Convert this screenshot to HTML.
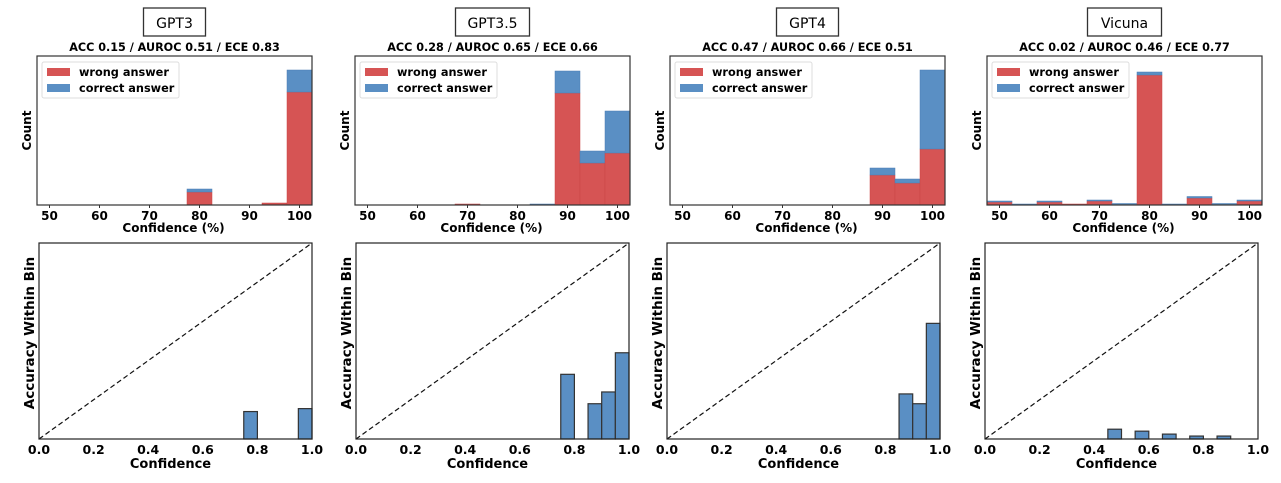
<!DOCTYPE html>
<html><head><meta charset="utf-8">
<style>
body{margin:0;background:#fff;width:1281px;height:478px;overflow:hidden}
svg text{font-family:"DejaVu Sans","Liberation Sans",sans-serif}
</style></head><body>
<svg id="c" width="1281" height="478" xmlns="http://www.w3.org/2000/svg"></svg>
<script>
// ---- data ----
const models = ["GPT3","GPT3.5","GPT4","Vicuna"];
const stats = ["ACC 0.15 / AUROC 0.51 / ECE 0.83","ACC 0.28 / AUROC 0.65 / ECE 0.66","ACC 0.47 / AUROC 0.66 / ECE 0.51","ACC 0.02 / AUROC 0.46 / ECE 0.77"];
const histBins = [50,55,60,65,70,75,80,85,90,95,100];
const wrongGPT3   = [0,0,0,0,0,0,13,0,0,2,113];
const correctGPT3 = [0,0,0,0,0,0,3,0,0,0,22];
const wrongGPT35   = [0,0,0,0,1,0,0,0,112,42,52];
const correctGPT35 = [0,0,0,0,0,0,0,1,22,12,42];
const wrongGPT4   = [0,0,0,0,0,0,0,0,30,22,56];
const correctGPT4 = [0,0,0,0,0,0,0,0,7,4,79];
const wrongVicuna   = [3,0,3,1,4,0,130,0,7,0,4];
const correctVicuna = [1,1,1,0,1,1.5,3,1,1.5,1.5,1];
const wrongSeries = [wrongGPT3,wrongGPT35,wrongGPT4,wrongVicuna];
const correctSeries = [correctGPT3,correctGPT35,correctGPT4,correctVicuna];
const relBinStarts = [0.45,0.5,0.55,0.6,0.65,0.7,0.75,0.8,0.85,0.9,0.95];
const accGPT3   = [0,0,0,0,0,0,0.14,0,0,0,0.155];
const accGPT35  = [0,0,0,0,0,0,0.33,0,0.18,0.24,0.44];
const accGPT4   = [0,0,0,0,0,0,0,0,0.23,0.18,0.59];
const accVicuna = [0.05,0,0.04,0,0.025,0,0.015,0,0.015,0,0];
const accSeries = [accGPT3,accGPT35,accGPT4,accVicuna];
const histTicks = [50,60,70,80,90,100];
const relTicks = [0,0.2,0.4,0.6,0.8,1.0];
const relTickLabels = ["0.0","0.2","0.4","0.6","0.8","1.0"];

const svg = document.getElementById('c');
const NS = "http://www.w3.org/2000/svg";
function mk(tag, attrs, parent){
  const e = document.createElementNS(NS, tag);
  for (const k in attrs) e.setAttribute(k, attrs[k]);
  (parent||svg).appendChild(e); return e;
}
const RED="#d65454", BLUE="#5a8fc4";
const topL=[37,355,670,987], botL=[39,356,667,985];
const W=275, BW=273;

models.forEach((m,i)=>{
  const g = mk('g',{});
  
  
  // ---- histogram ----
  const x0=topL[i], y0=56, y1=205, H=y1-y0;
  const cx = x0+W/2;
  const tb = mk('rect',{x:cx-31+(i==1?-6:0)-(i==3?6:0),y:8,width:62+(i==1?12:0)+(i==3?12:0),height:28,fill:'#fff',stroke:'#333','stroke-width':1.3},g);
  
  
  const tt = mk('text',{x:cx,y:28,'font-size':14,'text-anchor':'middle',fill:'#000'},g);
  tt.textContent=m;
  
  
  const st = mk('text',{x:cx,y:51,'font-size':11.2,'font-weight':'bold','text-anchor':'middle'},g);
  st.textContent=stats[i];
  
  
  const xs = v=> x0+(v-47.5)/55*W;
  const ymax = 149;
  const ys = v=> y1 - v/ymax*H;
  histBins.forEach((b,j)=>{
    const w=wrongSeries[i][j], c=correctSeries[i][j];
    if(w>0){const r=mk('rect',{x:xs(b-2.5),y:ys(w),width:xs(b+2.5)-xs(b-2.5),height:y1-ys(w),fill:RED,stroke:'#c94444','stroke-width':0.5},g);
      
      }
    if(c>0){const r=mk('rect',{x:xs(b-2.5),y:ys(w+c),width:xs(b+2.5)-xs(b-2.5),height:ys(w)-ys(w+c),fill:BLUE,stroke:'#4a7fb4','stroke-width':0.5},g);
      
      }
  });
  mk('rect',{x:x0,y:y0,width:W,height:H,fill:'none',stroke:'#333','stroke-width':1.2},g);
  histTicks.forEach(t=>{
    mk('line',{x1:xs(t),x2:xs(t),y1:y1,y2:y1+3,stroke:'#333'},g);
    const tx=mk('text',{x:xs(t),y:y1+15,'font-size':12,'font-weight':'bold','text-anchor':'middle'},g);
    tx.textContent=t;
    
    
  });
  const xl=mk('text',{x:x0+W/2-1,y:y1+27,'font-size':12,'font-weight':'bold','text-anchor':'middle'},g);
  xl.textContent='Confidence (%)';
  
  
  const yl=mk('text',{x:0,y:0,'font-size':12,'font-weight':'bold','text-anchor':'middle',transform:`translate(${x0-6},${(y0+y1)/2}) rotate(-90)`},g);
  yl.textContent='Count';
  
  
  // legend
  const lg=mk('g',{},g);
  
  
  mk('rect',{x:x0+5,y:y0+6,width:137,height:36,fill:'#fff',stroke:'#ddd',rx:2},lg);
  mk('rect',{x:x0+10,y:y0+12,width:23,height:8,fill:RED},lg);
  mk('rect',{x:x0+10,y:y0+28,width:23,height:8,fill:BLUE},lg);
  const l1=mk('text',{x:x0+42,y:y0+20,'font-size':11.3,'font-weight':'bold'},lg); l1.textContent='wrong answer';
  
  
  const l2=mk('text',{x:x0+42,y:y0+36,'font-size':11.3,'font-weight':'bold'},lg); l2.textContent='correct answer';
  
  

  // ---- reliability ----
  const bx=botL[i], by0=243, by1=439, BH=by1-by0;
  const rx=v=>bx+v*BW, ry=v=>by1-v*BH;
  relBinStarts.forEach((s,j)=>{
    const a=accSeries[i][j];
    if(a>0){const r=mk('rect',{x:rx(s),y:ry(a),width:rx(s+0.05)-rx(s),height:by1-ry(a),fill:BLUE,stroke:'#333','stroke-width':1.2},g);
      
      }
  });
  mk('line',{x1:rx(0),y1:ry(0),x2:rx(1),y2:ry(1),stroke:'#111','stroke-width':1.2,'stroke-dasharray':'5,3'},g);
  mk('rect',{x:bx,y:by0,width:BW,height:BH,fill:'none',stroke:'#222','stroke-width':1.2},g);
  relTicks.forEach((t,k)=>{
    const tx=mk('text',{x:rx(t),y:by1+15,'font-size':12.5,'font-weight':'bold','text-anchor':'middle'},g);
    tx.textContent=relTickLabels[k];
    
    
  });
  const bxl=mk('text',{x:bx+BW/2-5,y:by1+29,'font-size':13,'font-weight':'bold','text-anchor':'middle'},g);
  bxl.textContent='Confidence';
  
  
  const byl=mk('text',{x:0,y:0,'font-size':13.5,'font-weight':'bold','text-anchor':'middle',transform:`translate(${bx-5},${(by0+by1)/2-8}) rotate(-90)`},g);
  byl.textContent='Accuracy Within Bin';
  
  
});
</script>
</body></html>
